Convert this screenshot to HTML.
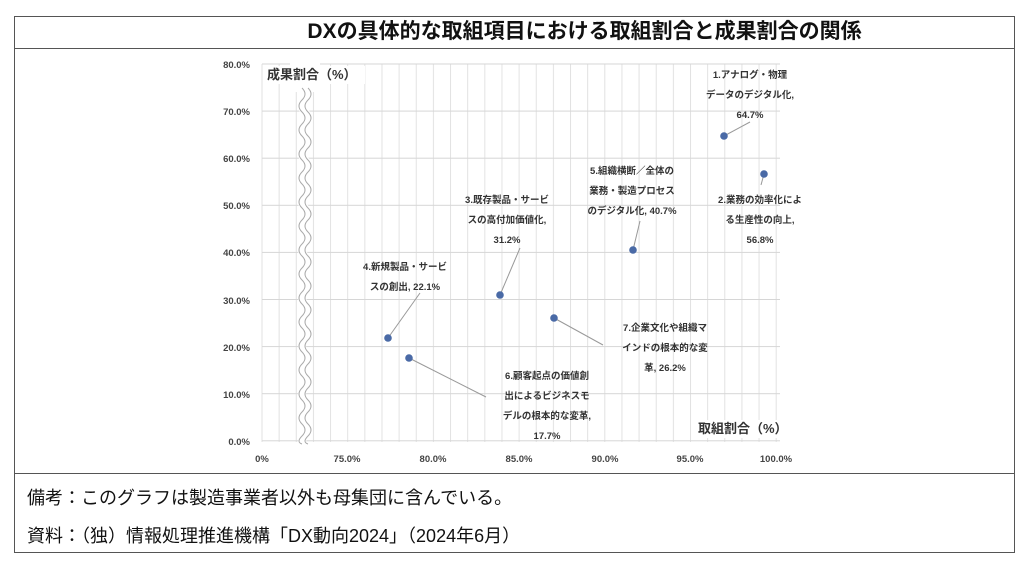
<!DOCTYPE html>
<html><head><meta charset="utf-8"><style>
body{margin:0;background:#fff;width:1024px;height:568px;overflow:hidden;position:relative;font-family:"Liberation Sans","Noto Sans CJK JP",sans-serif}
.box{position:absolute;left:14px;top:16px;width:1001px;height:537px;border:1.5px solid #555;box-sizing:border-box}
.t{position:absolute;left:14px;top:16px;width:1001px;height:33px;border-bottom:1.5px solid #555;box-sizing:border-box;text-align:center;font-size:21px;line-height:32px;font-weight:bold;color:#111;padding-left:140px}
.f{position:absolute;left:14px;top:473px;width:1001px;border-top:1.5px solid #555}
.n{position:absolute;left:27px;font-size:18px;color:#111}
</style></head><body>
<div class="box"></div>
<div class="t">DXの具体的な取組項目における取組割合と成果割合の関係</div>
<div class="f"></div>
<div class="n" style="top:484px">備考：このグラフは製造事業者以外も母集団に含んでいる。</div>
<div class="n" style="top:522px">資料：（独）情報処理推進機構「DX動向2024」（2024年6月）</div>
<svg width="1024" height="568" style="position:absolute;left:0;top:0" font-family="Liberation Sans,Noto Sans CJK JP,sans-serif">
<defs>
<pattern id="vp" patternUnits="userSpaceOnUse" x="261.5" y="0" width="17.14" height="10"><rect x="0" y="0" width="1" height="10" fill="#e2e2e2"/></pattern>
<pattern id="hp" patternUnits="userSpaceOnUse" x="0" y="63.5" width="10" height="47.1"><rect x="0" y="0" width="10" height="1" fill="#d6d6d6"/></pattern>
</defs>
<rect x="261" y="64" width="517" height="378" fill="url(#vp)"/>
<rect x="262" y="63" width="518" height="380" fill="url(#hp)"/>
<rect x="290" y="62" width="30" height="30" fill="#fff"/>
<path d="M305 88 q6 6 0 12 q-6 6 0 12 q6 6 0 12 q-6 6 0 12 q6 6 0 12 q-6 6 0 12 q6 6 0 12 q-6 6 0 12 q6 6 0 12 q-6 6 0 12 q6 6 0 12 q-6 6 0 12 q6 6 0 12 q-6 6 0 12 q6 6 0 12 q-6 6 0 12 q6 6 0 12 q-6 6 0 12 q6 6 0 12 q-6 6 0 12 q6 6 0 12 q-6 6 0 12 q6 6 0 12 q-6 6 0 12 q6 6 0 12 q-6 6 0 12 q6 6 0 12 q-6 6 0 12 q6 6 0 12 q-6 6 0 8" fill="none" stroke="#fff" stroke-width="8"/>
<path d="M302 88 q6 6 0 12 q-6 6 0 12 q6 6 0 12 q-6 6 0 12 q6 6 0 12 q-6 6 0 12 q6 6 0 12 q-6 6 0 12 q6 6 0 12 q-6 6 0 12 q6 6 0 12 q-6 6 0 12 q6 6 0 12 q-6 6 0 12 q6 6 0 12 q-6 6 0 12 q6 6 0 12 q-6 6 0 12 q6 6 0 12 q-6 6 0 12 q6 6 0 12 q-6 6 0 12 q6 6 0 12 q-6 6 0 12 q6 6 0 12 q-6 6 0 12 q6 6 0 12 q-6 6 0 12 q6 6 0 12 q-6 6 0 8" fill="none" stroke="#aaa" stroke-width="1"/>
<path d="M308 88 q6 6 0 12 q-6 6 0 12 q6 6 0 12 q-6 6 0 12 q6 6 0 12 q-6 6 0 12 q6 6 0 12 q-6 6 0 12 q6 6 0 12 q-6 6 0 12 q6 6 0 12 q-6 6 0 12 q6 6 0 12 q-6 6 0 12 q6 6 0 12 q-6 6 0 12 q6 6 0 12 q-6 6 0 12 q6 6 0 12 q-6 6 0 12 q6 6 0 12 q-6 6 0 12 q6 6 0 12 q-6 6 0 12 q6 6 0 12 q-6 6 0 12 q6 6 0 12 q-6 6 0 12 q6 6 0 12 q-6 6 0 8" fill="none" stroke="#aaa" stroke-width="1"/>
<g font-size="9.5" font-weight="bold" fill="#444" text-anchor="end">
<text x="250" y="68">80.0%</text><text x="250" y="115">70.0%</text><text x="250" y="162">60.0%</text><text x="250" y="209">50.0%</text><text x="250" y="256">40.0%</text><text x="250" y="304">30.0%</text><text x="250" y="351">20.0%</text><text x="250" y="398">10.0%</text><text x="250" y="445">0.0%</text>
</g>
<g font-size="9.5" font-weight="bold" fill="#444" text-anchor="middle">
<text x="262" y="462">0%</text><text x="347" y="462">75.0%</text><text x="433" y="462">80.0%</text><text x="519" y="462">85.0%</text><text x="605" y="462">90.0%</text><text x="690" y="462">95.0%</text><text x="776" y="462">100.0%</text>
</g>
<rect x="265" y="66" width="100" height="18" fill="#fff"/>
<text x="267" y="79" font-size="13" font-weight="bold" fill="#333">成果割合（%）</text>
<rect x="696" y="420" width="84" height="18" fill="#fff"/>
<text x="698" y="433" font-size="13" font-weight="bold" fill="#333">取組割合（%）</text>
<g stroke="#999" stroke-width="1" fill="none">
<line x1="388" y1="338" x2="420" y2="293"/>
<line x1="500" y1="295" x2="520" y2="248"/>
<line x1="409" y1="358" x2="486" y2="397"/>
<line x1="554" y1="318" x2="603" y2="345"/>
<line x1="633" y1="250" x2="640" y2="221"/>
<line x1="724" y1="136" x2="750" y2="122"/>
<line x1="764" y1="174" x2="761" y2="185"/>
</g>
<g fill="#4a6aa6">
<circle cx="388" cy="338" r="3.8"/><circle cx="409" cy="358" r="3.8"/><circle cx="500" cy="295" r="3.8"/><circle cx="554" cy="318" r="3.8"/><circle cx="633" cy="250" r="3.8"/><circle cx="724" cy="136" r="3.8"/><circle cx="764" cy="174" r="3.8"/>
</g>
<g font-size="9.5" font-weight="bold" fill="#333" text-anchor="middle">
<text x="405" y="270">4.新規製品・サービ</text><text x="405" y="290">スの創出, 22.1%</text>
<text x="507" y="203">3.既存製品・サービ</text><text x="507" y="223">スの高付加価値化,</text><text x="507" y="243">31.2%</text>
<text x="547" y="379">6.顧客起点の価値創</text><text x="547" y="399">出によるビジネスモ</text><text x="547" y="419">デルの根本的な変革,</text><text x="547" y="439">17.7%</text>
<text x="665" y="331">7.企業文化や組織マ</text><text x="665" y="351">インドの根本的な変</text><text x="665" y="371">革, 26.2%</text>
<text x="632" y="174">5.組織横断／全体の</text><text x="632" y="194">業務・製造プロセス</text><text x="632" y="214">のデジタル化, 40.7%</text>
<text x="750" y="78">1.アナログ・物理</text><text x="750" y="98">データのデジタル化,</text><text x="750" y="118">64.7%</text>
<text x="760" y="203">2.業務の効率化によ</text><text x="760" y="223">る生産性の向上,</text><text x="760" y="243">56.8%</text>
</g>
</svg>
</body></html>
